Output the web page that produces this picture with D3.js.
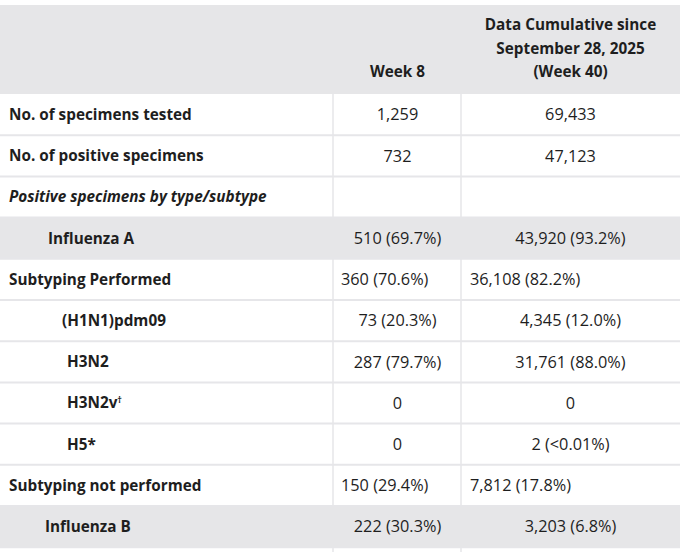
<!DOCTYPE html>
<html>
<head>
<meta charset="utf-8">
<title>Influenza positive specimens table</title>
<style>
  body { margin: 0; background: #fff; }
  svg { display: block; }
  text { font-family: "Open Sans", "Noto Sans", sans-serif; fill: #1e1e1e; }
</style>
<script src="https://cdn.jsdelivr.net/npm/d3@7"></script>
</head>
<body>
<svg id="chart" width="680" height="552"></svg>
<script>
// table content
var headerWeek = ["Week 8"];
var headerCum = ["Data Cumulative since", "September 28, 2025", "(Week 40)"];

var rowLabels = [
  "No. of specimens tested",
  "No. of positive specimens",
  "Positive specimens by type/subtype",
  "Influenza A",
  "Subtyping Performed",
  "(H1N1)pdm09",
  "H3N2",
  "H3N2v",
  "H5*",
  "Subtyping not performed",
  "Influenza B",
  ""
];
var weekValues = ["1,259", "732", "", "510 (69.7%)", "360 (70.6%)", "73 (20.3%)",
  "287 (79.7%)", "0", "0", "150 (29.4%)", "222 (30.3%)", ""];
var cumValues = ["69,433", "47,123", "", "43,920 (93.2%)", "36,108 (82.2%)", "4,345 (12.0%)",
  "31,761 (88.0%)", "0", "2 (<0.01%)", "7,812 (17.8%)", "3,203 (6.8%)", ""];
var superscripts = ["", "", "", "", "", "", "", "\u2020", "", "", "", ""];
var shadedRows = [3, 10];
var italicRows = [2];
var leftAlignedRows = [4, 9];
var indentLevel = [0, 0, 0, 2, 0, 3, 3, 3, 3, 0, 2, 0];

var W = 680, H = 552;
var svg = d3.select('#chart');

var top0 = 5, headH = 89, rowH = 41.2;
var colEdges = [0, 333, 461, 680];
var grey = '#e6e6e8', line = '#e6e6e9';

var y = d3.scaleLinear().domain([0, 1]).range([top0 + headH, top0 + headH + rowH]);

// header background
svg.append('rect').attr('x', 0).attr('y', top0).attr('width', W).attr('height', headH)
  .attr('fill', grey);

// row backgrounds
svg.selectAll('rect.row').data(rowLabels).enter().append('rect')
  .attr('class', 'row')
  .attr('x', 0).attr('y', function(d, i) { return y(i); })
  .attr('width', W).attr('height', rowH)
  .attr('fill', function(d, i) { return shadedRows.indexOf(i) >= 0 ? grey : '#fff'; });

// grid lines
svg.selectAll('line.h').data(d3.range(rowLabels.length)).enter().append('line')
  .attr('class', 'h')
  .attr('x1', 0).attr('x2', W)
  .attr('y1', function(i) { return y(i + 1); }).attr('y2', function(i) { return y(i + 1); })
  .attr('stroke', line).attr('stroke-width', 2);
svg.selectAll('line.v').data(colEdges.slice(1, 3)).enter().append('line')
  .attr('class', 'v')
  .attr('x1', function(d) { return d; }).attr('x2', function(d) { return d; })
  .attr('y1', top0 + headH).attr('y2', H)
  .attr('stroke', line).attr('stroke-width', 1.5);

var fs = 15.3, fv = 16.3;

// header text
var c2 = (colEdges[1] + colEdges[2]) / 2 + 0.5;
var c3 = (colEdges[2] + colEdges[3]) / 2;
svg.append('text').attr('x', c2).attr('y', 72).attr('dy', '0.35em')
  .attr('text-anchor', 'middle').attr('font-weight', 700).attr('font-size', fs)
  .text(headerWeek[0]);
svg.selectAll('text.hc').data(headerCum).enter().append('text')
  .attr('class', 'hc')
  .attr('x', c3).attr('y', function(d, i) { return 25 + i * 23.5; }).attr('dy', '0.35em')
  .attr('text-anchor', 'middle').attr('font-weight', 700).attr('font-size', fs)
  .text(function(d) { return d; });

// first column labels
var labels = svg.selectAll('text.lab').data(rowLabels).enter().append('text')
  .attr('class', 'lab')
  .attr('x', function(d, i) {
    var lv = indentLevel[i];
    return lv === 0 ? 9 : lv === 2 ? (i === 10 ? 45 : 48) : (i === 5 ? 62 : 67);
  })
  .attr('y', function(d, i) { return y(i + 0.5); }).attr('dy', '0.35em')
  .attr('font-weight', 700).attr('font-size', fs)
  .attr('font-style', function(d, i) { return italicRows.indexOf(i) >= 0 ? 'italic' : 'normal'; })
  .text(function(d) { return d; });
labels.filter(function(d, i) { return superscripts[i]; })
  .append('tspan').attr('font-size', 9).attr('dy', '-0.6em')
  .text(function(d) { return superscripts[rowLabels.indexOf(d)]; });

// value columns
function valueCol(values, center, left, cls) {
  svg.selectAll('text.' + cls).data(values).enter().append('text')
    .attr('class', cls)
    .attr('x', function(d, i) { return leftAlignedRows.indexOf(i) >= 0 ? left : center; })
    .attr('y', function(d, i) { return y(i + 0.5); }).attr('dy', '0.35em')
    .attr('text-anchor', function(d, i) { return leftAlignedRows.indexOf(i) >= 0 ? 'start' : 'middle'; })
    .attr('font-size', fv)
    .text(function(d) { return d; });
}
valueCol(weekValues, c2, 341, 'wk');
valueCol(cumValues, c3, 470, 'cm');
</script>
</body>
</html>
